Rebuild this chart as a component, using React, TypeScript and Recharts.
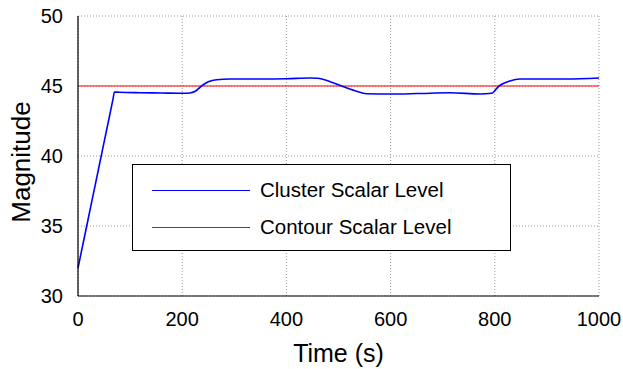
import { LineChart, Line, XAxis, YAxis, CartesianGrid, ReferenceLine } from 'recharts'

const timeSec = [0, 20, 40, 60, 67, 70, 80, 120, 160, 200, 215, 225, 237, 250, 266, 292, 350, 400, 445, 460, 484, 506, 532, 554, 600, 650, 714, 772, 794, 808, 829, 848, 900, 938, 1000]
const clusterLevel = [32, 35.59, 39.18, 42.77, 44.03, 44.57, 44.55, 44.52, 44.5, 44.48, 44.5, 44.62, 45.0, 45.3, 45.45, 45.5, 45.5, 45.52, 45.57, 45.55, 45.31, 45.0, 44.66, 44.45, 44.43, 44.46, 44.52, 44.43, 44.48, 45.0, 45.36, 45.5, 45.5, 45.5, 45.57]
const contourLevel = 45
const xTicks = [0, 200, 400, 600, 800, 1000]
const yTicks = [30, 35, 40, 45, 50]
const seriesNames = ['Cluster Scalar Level', 'Contour Scalar Level']

const FONT = '"Liberation Sans", Arial, Helvetica, sans-serif'

const data = timeSec.map((t, i) => ({ t, cluster: clusterLevel[i] }))

function LegendBox() {
  const colors = ['#0000ff', '#ff0000']
  return (
    <div
      style={{
        position: 'absolute',
        left: 132,
        top: 164,
        width: 377,
        height: 85,
        border: '1px solid #000',
        background: '#fff',
        fontFamily: FONT,
        fontSize: 20.5,
        color: '#000',
      }}
    >
      {seriesNames.map((name, i) => (
        <div
          key={name}
          style={{ position: 'absolute', left: 0, top: 25 + i * 37 - 12, height: 24, display: 'flex', alignItems: 'center' }}
        >
          <div style={{ marginLeft: 19, width: 98, height: 0, borderTop: `1px solid ${colors[i]}` }} />
          <span style={{ marginLeft: 10, whiteSpace: 'nowrap' }}>{name}</span>
        </div>
      ))}
    </div>
  )
}

export default function App() {
  return (
    <div style={{ position: 'absolute', left: 0, top: 0, width: 623, height: 369, background: '#fff' }}>
      <LineChart width={623} height={369} data={data} margin={{ top: 16, right: 24, bottom: 33, left: 8 }}>
        <CartesianGrid stroke="#999" strokeDasharray="1 2" horizontalValues={yTicks} verticalValues={xTicks} />
        <XAxis
          dataKey="t"
          type="number"
          domain={[0, 1000]}
          ticks={xTicks}
          height={40}
          tickLine={false}
          tickMargin={10}
          axisLine={{ stroke: '#000', strokeWidth: 1.2 }}
          tick={{ fill: '#000', fontSize: 20, fontFamily: FONT }}
          label={{
            content: ({ viewBox }: any) => (
              <text
                x={viewBox.x + viewBox.width / 2}
                y={353}
                textAnchor="middle"
                dominantBaseline="central"
                fontSize={25}
                fontFamily={FONT}
                fill="#000"
              >
                Time (s)
              </text>
            ),
          }}
        />
        <YAxis
          type="number"
          domain={[30, 50]}
          ticks={yTicks}
          width={70}
          tickLine={false}
          tickMargin={9}
          axisLine={{ stroke: '#000', strokeWidth: 1.2 }}
          tick={{ fill: '#000', fontSize: 20, fontFamily: FONT }}
          label={{
            content: ({ viewBox }: any) => {
              const cx = 21
              const cy = viewBox.y + viewBox.height / 2 + 6
              return (
                <text
                  x={cx}
                  y={cy}
                  transform={`rotate(-90 ${cx} ${cy})`}
                  textAnchor="middle"
                  dominantBaseline="central"
                  fontSize={26}
                  fontFamily={FONT}
                  fill="#000"
                >
                  Magnitude
                </text>
              )
            },
          }}
        />
        <ReferenceLine y={contourLevel} stroke="#ff0000" strokeWidth={1.2} ifOverflow="hidden" />
        <Line
          dataKey="cluster"
          name={seriesNames[0]}
          type="monotone"
          stroke="#0000ff"
          strokeWidth={1.6}
          dot={false}
          activeDot={false}
          isAnimationActive={false}
        />
      </LineChart>
      <LegendBox />
    </div>
  )
}
